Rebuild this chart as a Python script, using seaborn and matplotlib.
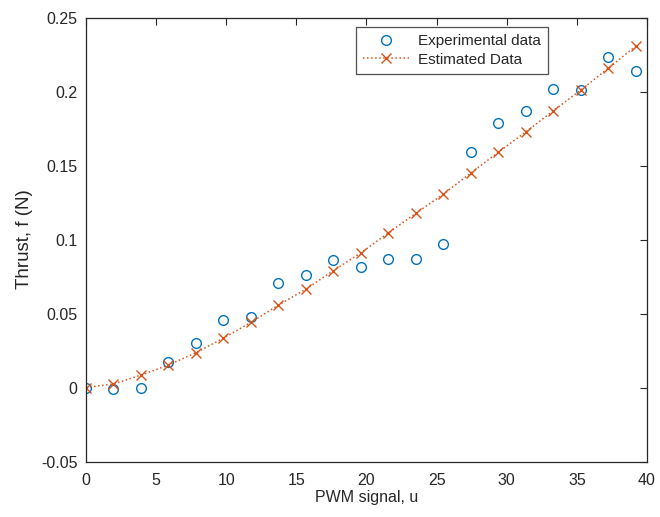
import matplotlib
matplotlib.use("Agg")
import matplotlib.pyplot as plt
import seaborn as sns
import pandas as pd

# PWM input samples
pwm = [0.0, 1.96, 3.92, 5.88, 7.84, 9.8, 11.76, 13.72, 15.68, 17.64, 19.6,
       21.56, 23.52, 25.48, 27.44, 29.4, 31.36, 33.32, 35.28, 37.24, 39.2]

# measured thrust (N)
thrust_exp = [0.0, -0.001, 0.0, 0.017, 0.030, 0.0455, 0.0475, 0.0707, 0.0757,
              0.086, 0.0815, 0.087, 0.0866, 0.097, 0.159, 0.179, 0.187,
              0.202, 0.201, 0.223, 0.214]

# model estimate (N)
thrust_est = [0.0, 0.0024, 0.0084, 0.0152, 0.0235, 0.0334, 0.044, 0.0557,
              0.0665, 0.079, 0.091, 0.1045, 0.1177, 0.1307, 0.1449, 0.159,
              0.1727, 0.187, 0.201, 0.2157, 0.2307]

xticks = [0, 5, 10, 15, 20, 25, 30, 35, 40]
yticks = [-0.05, 0, 0.05, 0.1, 0.15, 0.2, 0.25]
ytick_labels = ["-0.05", "0", "0.05", "0.1", "0.15", "0.2", "0.25"]

df = pd.DataFrame({"u": pwm, "exp": thrust_exp, "est": thrust_est})

sns.set_style("white")
plt.rcParams["font.family"] = ["Liberation Sans", "DejaVu Sans"]

blue = "#0072BD"
orange = "#D95319"
ink = "#262626"

fig = plt.figure(figsize=(6.6, 5.17), dpi=100)
ax = fig.add_axes([0.1303, 0.1073, 0.8500, 0.8588])

sns.lineplot(data=df, x="u", y="exp", ax=ax, linestyle="", marker="o",
             markersize=7, markerfacecolor="none", markeredgecolor=blue,
             markeredgewidth=1.0, color=blue, label="Experimental data")
sns.lineplot(data=df, x="u", y="est", ax=ax, linestyle=":", linewidth=1.1,
             marker="x", markersize=6.5, markeredgewidth=1.0,
             markeredgecolor=orange, markerfacecolor=orange, color=orange,
             label="Estimated Data")

ax.set_xlim(0, 40)
ax.set_ylim(-0.05, 0.25)
ax.set_xticks(xticks)
ax.set_yticks(yticks)
ax.set_yticklabels(ytick_labels)

ax.tick_params(direction="in", length=5, width=0.8, top=True, right=True,
               labelsize=11.5, colors=ink)
ax.tick_params(axis="x", pad=8.5)
ax.tick_params(axis="y", pad=6)
for s in ax.spines.values():
    s.set_color(ink)
    s.set_linewidth(0.9)

ax.set_xlabel("PWM signal, u", fontsize=11.5, color=ink, labelpad=1.5)
ax.set_ylabel("Thrust, f (N)", fontsize=13.5, color=ink, labelpad=6)

leg = ax.legend(loc="upper left", bbox_to_anchor=(0.481, 0.9786),
                fontsize=11, frameon=True, fancybox=False, edgecolor=ink,
                handlelength=3.05, handletextpad=0.55, borderpad=0.46,
                labelspacing=0.3, borderaxespad=0)
leg.get_frame().set_linewidth(0.9)
for t in leg.get_texts():
    t.set_color(ink)

fig.savefig("out.png", dpi=100, facecolor="white")
